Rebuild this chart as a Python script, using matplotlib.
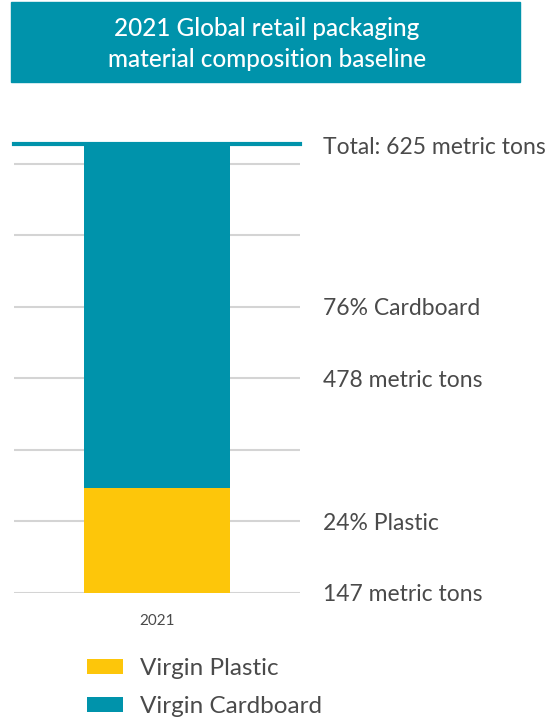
import matplotlib.pyplot as plt
from matplotlib.patches import Rectangle

plt.rcParams['font.family'] = ['Lato', 'DejaVu Sans']

years = ['2021']
series_names = ['Virgin Plastic', 'Virgin Cardboard']
plastic = [147]
cardboard = [478]
total = [625]
right_labels = ['Total: 625 metric tons', '76% Cardboard', '478 metric tons',
                '24% Plastic', '147 metric tons']
right_label_y = [625, 400, 300, 100, 0]

teal = '#0093AB'
yellow = '#FDC60A'
grey_text = '#4a4a4a'

W, H = 557, 726
fig = plt.figure(figsize=(W / 100, H / 100), dpi=100)

# title banner
fig.patches.append(Rectangle((11 / W, 1 - 82 / H), 509 / W, 80 / H,
                             transform=fig.transFigure, color=teal, zorder=0))
fig.text(267 / W, 1 - 44 / H, '2021 Global retail packaging\nmaterial composition baseline',
         color='white', fontsize=17.5, ha='center', va='center', linespacing=1.4,
         fontweight='medium')

# axes: left 14px, right 300px, zero at y=592.7px
ymax = 640
px_per_unit = 0.715
bottom = 592.7
top = bottom - ymax * px_per_unit
ax = fig.add_axes([14 / W, 1 - bottom / H, 286 / W, (bottom - top) / H])
ax.set_xlim(-0.5, 0.5)
ax.set_ylim(0, ymax)
for s in ax.spines.values():
    s.set_visible(False)
ax.set_yticks(range(0, 700, 100))
ax.set_yticklabels([])
ax.tick_params(axis='y', length=0)
ax.grid(axis='y', color='#d4d4d4', linewidth=1.5)
ax.set_axisbelow(True)
ax.set_xticks([0])
ax.set_xticklabels(years, fontsize=11, color=grey_text)
ax.tick_params(axis='x', length=0, pad=15)

ax.bar([0], plastic, width=0.51, color=yellow, label=series_names[0], zorder=2)
ax.bar([0], cardboard, bottom=plastic, width=0.51, color=teal, label=series_names[1], zorder=2)
ax.axhline(total[0] + 2, color=teal, linewidth=3, zorder=3, clip_on=False)

for lab, yv in zip(right_labels, right_label_y):
    ax.text(1.08, yv - 3, lab, transform=ax.get_yaxis_transform(), fontsize=16.5,
            color=grey_text, va='center', ha='left')

handles, labels = ax.get_legend_handles_labels()
fig.legend(handles, labels, loc='upper left', bbox_to_anchor=(87 / W, 1 - 658 / H),
           frameon=False, fontsize=17.5, labelcolor=grey_text, handlelength=1.48,
           handleheight=0.58, labelspacing=0.69, handletextpad=0.7,
           borderpad=0, borderaxespad=0)

fig.savefig('out.png', dpi=100)
